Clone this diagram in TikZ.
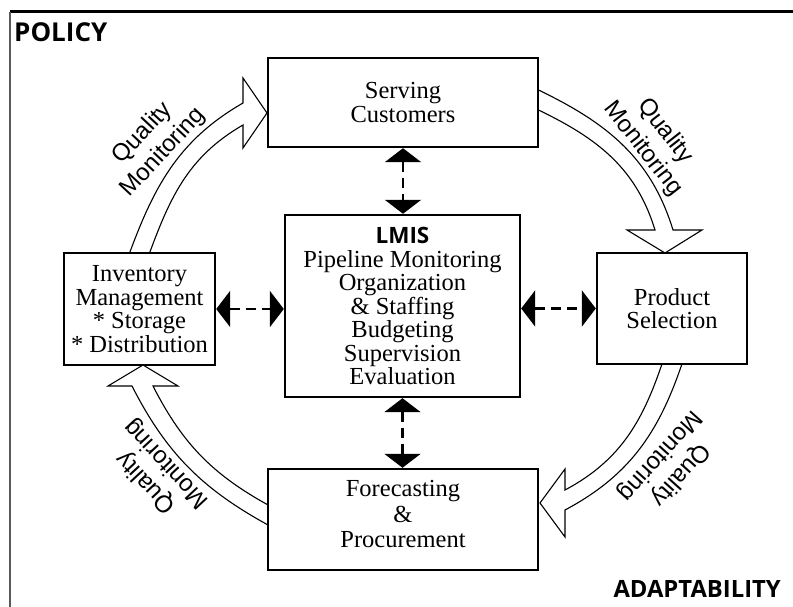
\documentclass[tikz,border=0pt]{standalone}
\usepackage{fontspec}
\setmainfont{Liberation Serif}
\newfontfamily\headfont{Open Sans}
\newfontfamily\qmfont{Liberation Sans}
\usetikzlibrary{arrows.meta}
\begin{document}
\begin{tikzpicture}[x=1pt,y=1pt,
  box/.style={draw=black, line width=2.4pt, fill=white, inner sep=0pt, align=center,
    font=\fontsize{24.5}{23.5}\selectfont},
  boxtext/.style={inner sep=0pt, align=center, font=\fontsize{24.5}{25.5}\selectfont},
  blockarrow/.style={draw=black, line width=1.1pt, fill=white, line join=miter},
  dasharrow/.style={line width=2.6pt, dash pattern=on 10pt off 6pt,
    {Triangle[length=14pt,width=36pt]}-{Triangle[length=14pt,width=36pt]}},
  qm/.style={font=\qmfont\fontsize{24}{28}\selectfont, align=center, inner sep=0pt},
  corner/.style={font=\headfont\bfseries, inner sep=0pt}]
\useasboundingbox (0,0) rectangle (793,607);

% frame lines
\draw[line width=3pt, black] (10,595) -- (793,595);
\draw[line width=1.5pt, black!65] (10,595) -- (10,0);

% corner labels
\node[corner, font=\headfont\bfseries\fontsize{26}{26}\selectfont, anchor=base west] (policy) at (14,565) {POLICY};
\node[corner, font=\headfont\bfseries\fontsize{23.8}{24}\selectfont, anchor=base east] (adapt) at (781,9) {ADAPTABILITY};

% hollow curved arrows
\draw[blockarrow] (127,347) to[out=70,in=210] (243,504) -- (243,529) -- (267,494)
  -- (243,459) -- (243,482) to[out=210,in=70] (147,347) -- cycle;
\draw[blockarrow] (530,521) to[out=-25,in=107] (673,377) -- (702,377) -- (665,354)
  -- (627,377) -- (655,377) to[out=107,in=-25] (530,501) -- cycle;
\draw[blockarrow] (684.6,251) to[out=252,in=28] (565,97) -- (565,70) -- (540,104)
  -- (565,138) -- (565,117) to[out=28,in=252] (664.6,251) -- cycle;
\draw[blockarrow] (276,77.7) to[out=152,in=-63] (132,221) -- (108,221) -- (143,242)
  -- (178,221) -- (153,221) to[out=-63,in=152] (276,97.7) -- cycle;

% labels on arrows
\node[qm, rotate=47] (qm1) at (153,464) {Quality\\Monitoring};
\node[qm, rotate=-52] (qm2) at (654,467) {Quality\\Monitoring};
\node[qm, rotate=228] (qm3) at (670,142) {Quality\\Monitoring};
\node[qm, rotate=133] (qm4) at (156.5,134) {Quality\\Monitoring};

% boxes
\node[box, minimum width=270pt, minimum height=89pt] (serve) at (403,504.5)
  {Serving\\Customers};
\node[box, minimum width=235pt, minimum height=182pt] (lmis) at (402.5,301)
  {{\headfont\bfseries\fontsize{22.5}{23.5}\selectfont LMIS}\\Pipeline Monitoring\\Organization\\\& Staffing\\Budgeting\\Supervision\\Evaluation};
\node[box, minimum width=151pt, minimum height=112pt] (inv) at (139.5,298)
  {Inventory\\Management\\* Storage\\* Distribution};
\node[box, minimum width=150pt, minimum height=111pt] (prod) at (672,298.5)
  {Product\\Selection};
\node[box, minimum width=270pt, minimum height=101pt] (fore) at (403,87.5) {};
\node[boxtext] (foretext) at ([yshift=5pt]fore.center) {Forecasting\\\&\\Procurement};

% dashed double arrows
\draw[dasharrow] (serve.south) -- (serve.south |- lmis.north);
\draw[dasharrow] (lmis.south) -- (lmis.south |- fore.north);
\draw[dasharrow] (inv.east) -- (inv.east -| lmis.west);
\draw[dasharrow] (lmis.east |- prod.west) -- (prod.west);
\end{tikzpicture}
\end{document}
